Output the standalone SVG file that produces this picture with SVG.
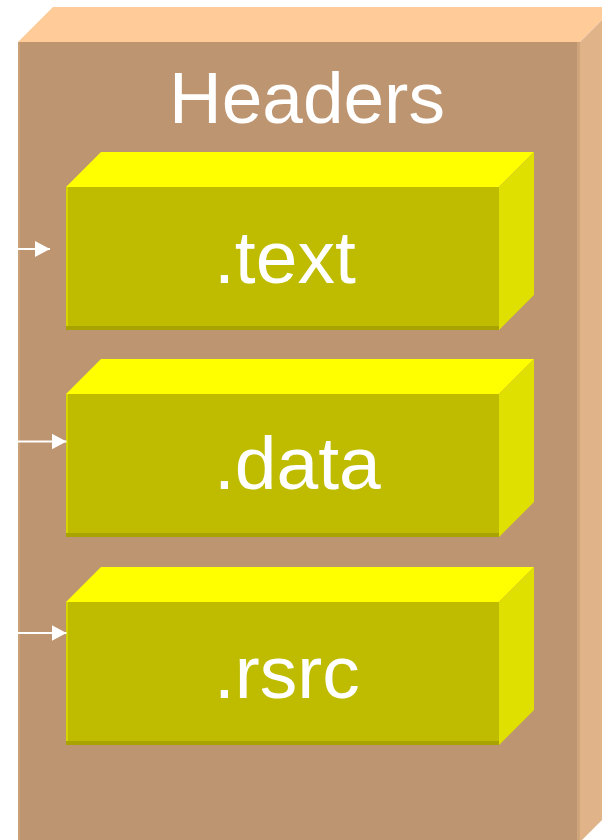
<svg xmlns="http://www.w3.org/2000/svg" width="602" height="840" viewBox="0 0 602 840">
<defs>
<style>
.t{font-family:"Liberation Sans",Arial,sans-serif;font-size:75px;fill:#FFFFFF}
.h{font-size:73px}
.bf{fill:#BE9571}
.btop{fill:#FFCC99}
.bside{fill:#E0B389}
.sf{fill:#BFBC00}
.stop{fill:#FFFF00}
.sside{fill:#E0E000}
.sb{fill:#A8A300}
.sl{fill:#D6D400}
.conn{stroke:#FFFFFF;stroke-width:2;fill:none}
</style>
<marker id="ah" markerWidth="8" markerHeight="8" refX="7.5" refY="4" orient="auto" markerUnits="strokeWidth">
<path d="M0,0 L7.5,4 L0,8 Z" fill="#FFFFFF"/>
</marker>
</defs>
<g id="headers">
<polygon class="btop" points="18,42 53,7 615,7 580,42"/>
<polygon class="bside" points="580,42 615,7 615,807 580,842"/>
<rect class="bf" x="18" y="42" width="562" height="800"/>
<rect x="18" y="42" width="2" height="800" fill="#C9A078"/>
<rect x="577" y="42" width="3" height="800" fill="#CFA57C"/>
<text class="t h" x="169" y="122.7">Headers</text>
</g>
<g id="text-section">
<polygon class="stop" points="66,187 101,152 534,152 499,187"/>
<polygon class="sside" points="499,187 534,152 534,295 499,330"/>
<rect class="sf" x="66" y="187" width="433" height="143"/>
<rect class="sl" x="66" y="187" width="2" height="143"/>
<rect class="sb" x="66" y="326" width="433" height="4"/>
<text class="t" x="214" y="283.3">.text</text>
</g>
<g id="data-section">
<polygon class="stop" points="66,394 101,359 534,359 499,394"/>
<polygon class="sside" points="499,394 534,359 534,502 499,537"/>
<rect class="sf" x="66" y="394" width="433" height="143"/>
<rect class="sl" x="66" y="394" width="2" height="143"/>
<rect class="sb" x="66" y="533" width="433" height="4"/>
<text class="t" x="214" y="489.3">.data</text>
</g>
<g id="rsrc-section">
<polygon class="stop" points="66,602 101,567 534,567 499,602"/>
<polygon class="sside" points="499,602 534,567 534,710 499,745"/>
<rect class="sf" x="66" y="602" width="433" height="143"/>
<rect class="sl" x="66" y="602" width="2" height="143"/>
<rect class="sb" x="66" y="741" width="433" height="4"/>
<text class="t" x="214" y="698.3">.rsrc</text>
</g>
<g id="connectors">
<line class="conn" x1="0" y1="249" x2="50" y2="249" marker-end="url(#ah)"/>
<line class="conn" x1="0" y1="441.5" x2="66.5" y2="441.5" marker-end="url(#ah)"/>
<line class="conn" x1="0" y1="633" x2="66.5" y2="633" marker-end="url(#ah)"/>
</g>
</svg>
